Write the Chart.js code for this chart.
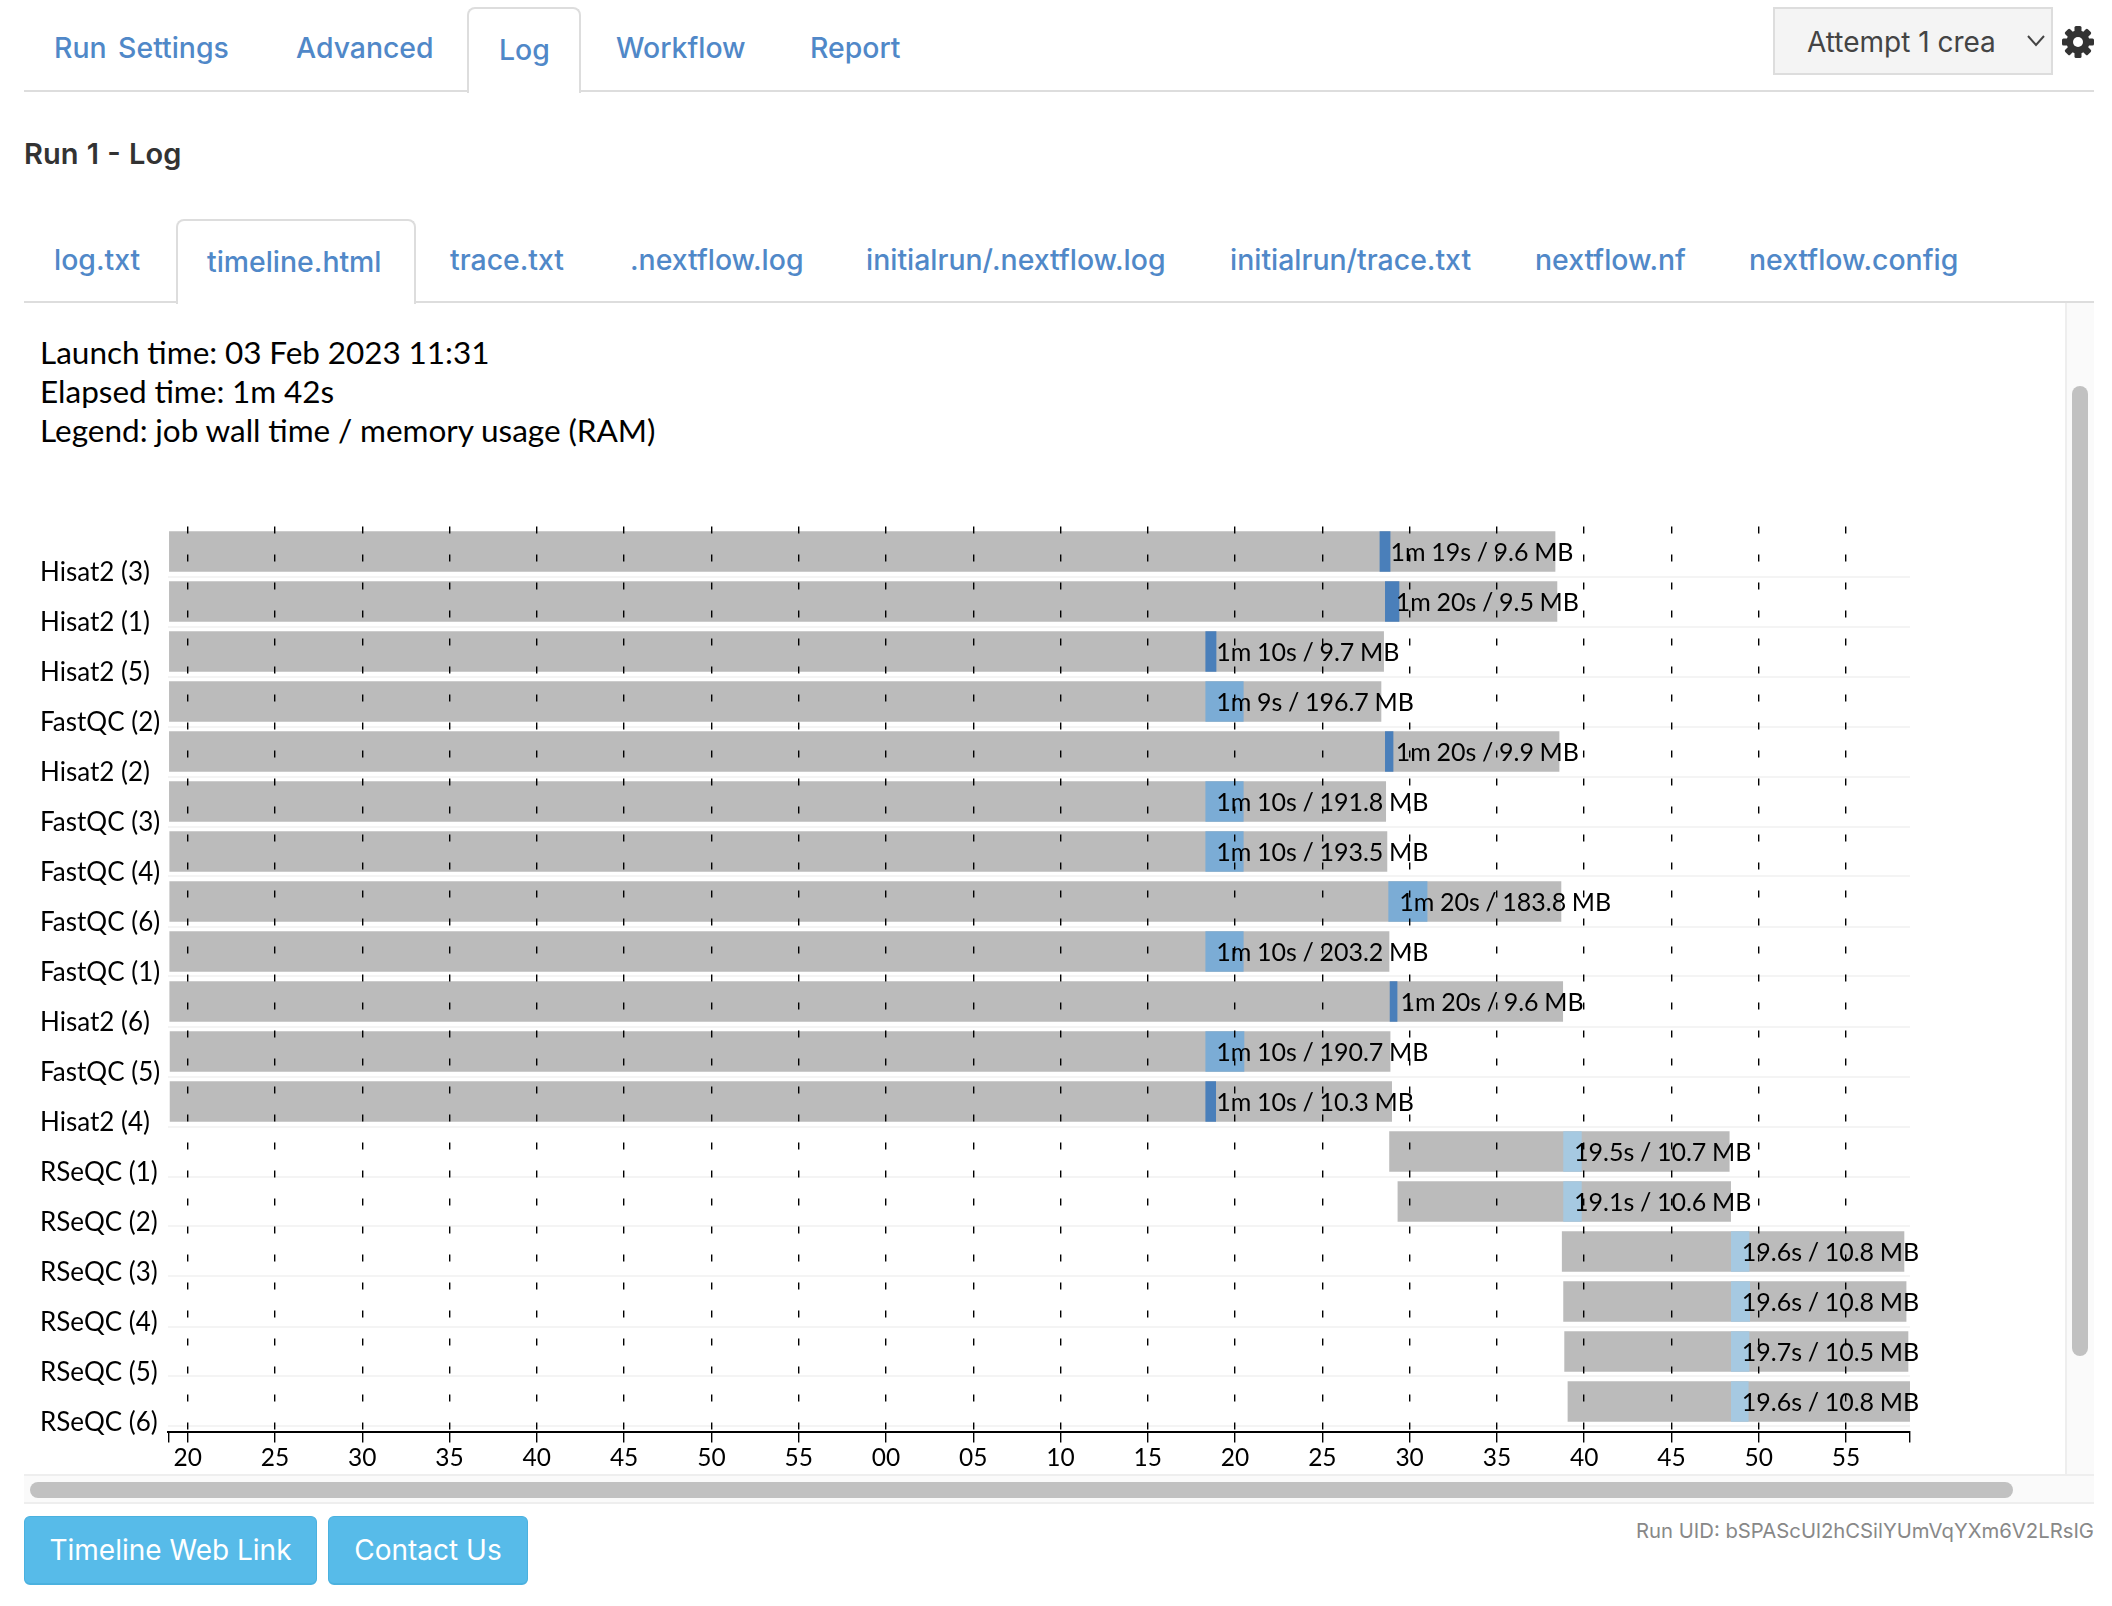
<!DOCTYPE html>
<html>
<head>
<meta charset="utf-8">
<title>timeline</title>
<script src="https://cdn.jsdelivr.net/npm/chart.js@4"></script>
<style>
  html, body { margin: 0; padding: 0; background: #fff; }
  body { position: relative; width: 2112px; height: 1606px; overflow: hidden; font-family: Lato, sans-serif; }
  .abs { position: absolute; white-space: nowrap; }
  .tab { position: absolute; white-space: nowrap; color: #5088c8; font: 500 28.4px/40px Inter, sans-serif; word-spacing: 4px; transform: translateY(-50%); }
  .rule { position: absolute; height: 2px; background: #ddd; }
  .active { position: absolute; background: #fff; border: 2px solid #ddd; border-bottom: none; border-radius: 8px 8px 0 0; box-sizing: border-box; }
  .info { position: absolute; left: 40px; color: #000; font: 31.5px/40px Lato, sans-serif; word-spacing: -0.3px; white-space: nowrap; transform: translateY(-50%); }
  .btn { position: absolute; top: 1516px; height: 69px; box-sizing: border-box; background: #57bbe9; border: 1px solid #4bb1df; border-bottom-width: 2px; border-radius: 6px; color: #fff; font: 28px/66px Inter, sans-serif; text-align: center; }
  canvas { position: absolute; left: 0; top: 500px; }
</style>
</head>
<body>
<div class="rule" style="left:24px;top:90px;width:2070px"></div>
<div class="active" style="left:467px;top:7px;width:114px;height:86px"></div>
<span class="tab" style="left:54px;top:48px">Run Settings</span>
<span class="tab" style="left:296px;top:48px">Advanced</span>
<span class="tab" style="left:499px;top:50px">Log</span>
<span class="tab" style="left:616px;top:48px">Workflow</span>
<span class="tab" style="left:810px;top:48px">Report</span>

<div class="abs" style="left:1773px;top:7px;width:280px;height:68px;box-sizing:border-box;background:#f4f4f4;border:2px solid #ddd"></div>
<span class="abs" style="left:1807px;top:22px;color:#444;font:28px/40px Inter,sans-serif">Attempt 1 crea</span>
<svg class="abs" style="left:2027px;top:35px" width="18" height="12" viewBox="0 0 18 12"><path d="M1 1 L9 10 L17 1" fill="none" stroke="#444" stroke-width="2"/></svg>
<svg class="abs" style="left:2062px;top:26px" width="32" height="32" viewBox="0 0 32 32">
  <g fill="#333">
    <rect x="12.5" y="0" width="7" height="32" rx="1.5"/>
    <rect x="12.5" y="0" width="7" height="32" rx="1.5" transform="rotate(45 16 16)"/>
    <rect x="12.5" y="0" width="7" height="32" rx="1.5" transform="rotate(90 16 16)"/>
    <rect x="12.5" y="0" width="7" height="32" rx="1.5" transform="rotate(135 16 16)"/>
  </g>
  <circle cx="16" cy="16" r="8.5" fill="none" stroke="#333" stroke-width="6"/>
  <circle cx="16" cy="16" r="5" fill="#fff"/>
</svg>

<span class="abs" style="left:24px;top:134px;color:#333;font:600 29px/40px Inter,sans-serif;word-spacing:1px">Run 1 - Log</span>

<div class="rule" style="left:24px;top:301px;width:2070px"></div>
<div class="active" style="left:176px;top:219px;width:240px;height:85px"></div>
<span class="tab" style="left:54px;top:260px">log.txt</span>
<span class="tab" style="left:207px;top:262px">timeline.html</span>
<span class="tab" style="left:450px;top:260px">trace.txt</span>
<span class="tab" style="left:630px;top:260px">.nextflow.log</span>
<span class="tab" style="left:866px;top:260px">initialrun/.nextflow.log</span>
<span class="tab" style="left:1230px;top:260px">initialrun/trace.txt</span>
<span class="tab" style="left:1535px;top:260px">nextflow.nf</span>
<span class="tab" style="left:1749px;top:260px">nextflow.config</span>

<div class="info" style="top:352px">Launch time: 03 Feb 2023 11:31</div>
<div class="info" style="top:391px">Elapsed time: 1m 42s</div>
<div class="info" style="top:430px">Legend: job wall time / memory usage (RAM)</div>

<!-- scrollbars of the log frame -->
<div class="abs" style="left:2065px;top:303px;width:29px;height:1171px;background:#fafafa;border-left:2px solid #eee;box-sizing:border-box"></div>
<div class="abs" style="left:2072px;top:386px;width:16px;height:970px;background:#c1c1c1;border-radius:8px"></div>
<div class="abs" style="left:24px;top:1474px;width:2070px;height:30px;background:#fafafa;border-top:2px solid #eee;border-bottom:2px solid #eee;box-sizing:border-box"></div>
<div class="abs" style="left:30px;top:1482px;width:1983px;height:16px;background:#c1c1c1;border-radius:8px"></div>

<canvas id="timeline" width="2060" height="1000"></canvas>

<div class="btn" style="left:24px;width:293px">Timeline Web Link</div>
<div class="btn" style="left:328px;width:200px">Contact Us</div>
<span class="abs" style="right:18px;top:1518px;color:#888;font:20.3px/26px Inter,sans-serif">Run UID: bSPAScUl2hCSilYUmVqYXm6V2LRsIG</span>

<script>
// Seconds counted from the :00 of the launch minute, so 78 reads as :18 of the next one
const taskNames = [
  "Hisat2 (3)", "Hisat2 (1)", "Hisat2 (5)", "FastQC (2)", "Hisat2 (2)", "FastQC (3)",
  "FastQC (4)", "FastQC (6)", "FastQC (1)", "Hisat2 (6)", "FastQC (5)", "Hisat2 (4)",
  "RSeQC (1)", "RSeQC (2)", "RSeQC (3)", "RSeQC (4)", "RSeQC (5)", "RSeQC (6)",
];
const submitTimes = [
  18.95, 18.95, 18.95, 18.95, 18.95, 18.95, 18.97, 18.97, 18.97, 18.97, 18.99, 18.99,
  88.85, 89.33, 98.74, 98.82, 98.88, 99.07,
];
const runStarts = [
  88.3, 88.61, 78.32, 78.32, 88.61, 78.32, 78.32, 88.8, 78.32, 88.88, 78.32, 78.32,
  98.82, 98.82, 108.43, 108.43, 108.43, 108.43,
];
const memoryEnds = [
  88.88, 89.39, 78.91, 80.47, 89.05, 80.47, 80.47, 91.0, 80.47, 89.28, 80.51, 78.89,
  99.84, 99.84, 109.44, 109.48, 109.44, 109.4,
];
const finishTimes = [
  98.33, 98.44, 88.51, 88.36, 98.56, 88.63, 88.7, 98.67, 88.82, 98.77, 88.88, 88.97,
  108.31, 108.39, 118.32, 118.44, 118.55, 118.66,
];
const wallTimes = [
  "1m 19s", "1m 20s", "1m 10s", "1m 9s", "1m 20s", "1m 10s", "1m 10s", "1m 20s", "1m 10s",
  "1m 20s", "1m 10s", "1m 10s", "19.5s", "19.1s", "19.6s", "19.6s", "19.7s", "19.6s",
];
const memoryUsage = [
  "9.6 MB", "9.5 MB", "9.7 MB", "196.7 MB", "9.9 MB", "191.8 MB", "193.5 MB", "183.8 MB", "203.2 MB",
  "9.6 MB", "190.7 MB", "10.3 MB", "10.7 MB", "10.6 MB", "10.8 MB", "10.8 MB", "10.5 MB", "10.8 MB",
];
const tickSeconds = [20, 25, 30, 35, 40, 45, 50, 55, 60, 65, 70, 75, 80, 85, 90, 95, 100, 105, 110, 115];
const tickLabels = ["20", "25", "30", "35", "40", "45", "50", "55", "00", "05", "10", "15", "20", "25", "30", "35", "40", "45", "50", "55"];
const axisStart = 18.894;
const axisEnd = 118.665;

const processColors = { Hisat2: "#4a7fba", FastQC: "#7bacd5", RSeQC: "#a6c9e1" };
const wallGray = "#bbbbbb";
const labelFont = "25px Lato, sans-serif";

function rowBars(from, to) {
  return taskNames.map((_, i) => ({ x: [from[i], to[i]], y: i }));
}

const barLabels = {
  id: "barLabels",
  afterDraw(chart) {
    const { ctx, scales } = chart;
    ctx.save();
    ctx.font = labelFont;
    ctx.wordSpacing = "-0.75px";
    ctx.fillStyle = "#000";
    ctx.textBaseline = "alphabetic";
    taskNames.forEach((_, i) => {
      const x = scales.x.getPixelForValue(runStarts[i]) + 10.5;
      const y = scales.y.getPixelForValue(i) + 9.2;
      ctx.fillText(wallTimes[i] + " / " + memoryUsage[i], x, y);
    });
    ctx.restore();
  },
};

new Chart(document.getElementById("timeline"), {
  type: "bar",
  plugins: [barLabels],
  data: {
    datasets: [
      {
        data: rowBars(runStarts, memoryEnds),
        backgroundColor: taskNames.map((n) => processColors[n.split(" ")[0]]),
        barThickness: 40,
        grouped: false,
      },
      {
        data: rowBars(submitTimes, finishTimes),
        backgroundColor: wallGray,
        barThickness: 40,
        grouped: false,
      },
    ],
  },
  options: {
    indexAxis: "y",
    responsive: false,
    animation: false,
    devicePixelRatio: 1,
    layout: { padding: { left: 40, top: 26.5, right: 150, bottom: 28.5 } },
    plugins: { legend: { display: false }, tooltip: { enabled: false } },
    scales: {
      x: {
        type: "linear",
        min: axisStart,
        max: axisEnd,
        afterBuildTicks(scale) {
          scale.ticks = [axisStart, ...tickSeconds, axisEnd].map((value) => ({ value }));
        },
        afterFit(scale) {
          scale.height = 40;
        },
        grid: {
          z: 1,
          color: (c) => (tickSeconds.includes(c.tick?.value) ? "#000" : "transparent"),
          tickColor: "#000",
          lineWidth: 1.4,
          tickLength: 11,
          tickBorderDash: [],
        },
        border: { color: "#000", width: 2, dash: [7, 21], z: 2 },
        ticks: {
          autoSkip: false,
          maxRotation: 0,
          padding: 1,
          color: "#000",
          font: { family: "Lato, sans-serif", size: 24.5 },
          callback: (value, index) => tickLabels[index - 1] ?? "",
        },
      },
      y: {
        type: "linear",
        reverse: true,
        offset: false,
        min: -0.5,
        max: 17.6,
        afterBuildTicks(scale) {
          scale.ticks = taskNames.map((_, i) => ({ value: i + 0.5 }));
        },
        afterFit(scale) {
          scale.width = 128.4;
        },
        grid: { offset: false, color: "#f4f4f4", lineWidth: 2, drawTicks: false },
        border: { display: false },
        ticks: {
          autoSkip: false,
          crossAlign: "far",
          labelOffset: -3.5,
          color: "#000",
          font: { family: "Lato, sans-serif", size: 26 },
          callback: (value, index) => taskNames[index],
        },
      },
    },
  },
});
</script>
</body>
</html>
